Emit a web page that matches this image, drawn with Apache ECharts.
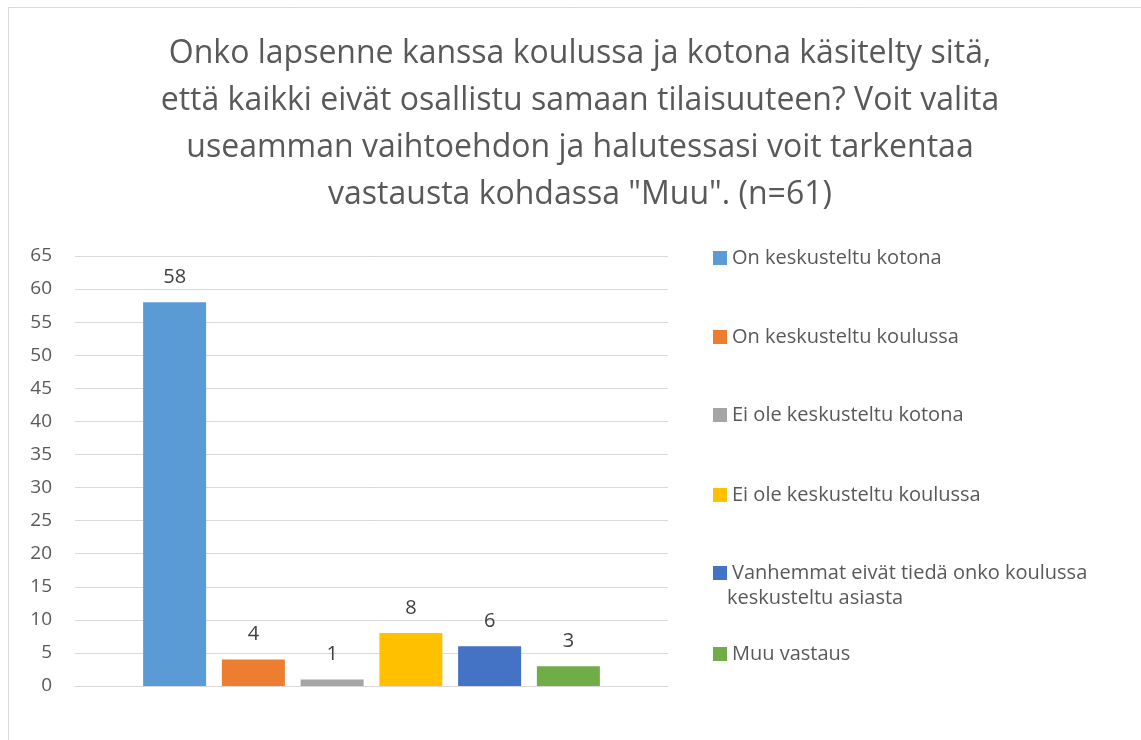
<!DOCTYPE html>
<html>
<head>
<meta charset="utf-8">
<script src="https://cdn.jsdelivr.net/npm/echarts@6/dist/echarts.min.js"></script>
<style>
  html, body { margin: 0; padding: 0; background: #fff; }
  #main { width: 1141px; height: 740px; }
</style>
</head>
<body>
<div id="main"></div>
<script>
// kyselyn vastaukset (n=61)
var seriesNames = [
  'On keskusteltu kotona',
  'On keskusteltu koulussa',
  'Ei ole keskusteltu kotona',
  'Ei ole keskusteltu koulussa',
  'Vanhemmat eivät tiedä onko koulussa keskusteltu asiasta',
  'Muu vastaus'
];
var seriesValues = [58, 4, 1, 8, 6, 3];
var seriesColors = ['#5b9bd5', '#ed7d31', '#a5a5a5', '#ffc000', '#4472c4', '#70ad47'];
var yTicks = [0, 5, 10, 15, 20, 25, 30, 35, 40, 45, 50, 55, 60, 65];

var titleText = 'Onko lapsenne kanssa koulussa ja kotona käsitelty sitä,\n' +
  'että kaikki eivät osallistu samaan tilaisuuteen? Voit valita\n' +
  'useamman vaihtoehdon ja halutessasi voit tarkentaa\n' +
  'vastausta kohdassa "Muu". (n=61)';

var font = '"Open Sans", sans-serif';
var myChart = echarts.init(document.getElementById('main'));

// legendat erikseen, jotta kaksirivinen kohta ei siirrä seuraavaa
var legendTops = [239, 318, 396, 476, 554, 635];
var legends = seriesNames.map(function (name, i) {
  return {
    data: [name],
    left: 708,
    top: legendTops[i],
    orient: 'vertical',
    itemWidth: 14,
    itemHeight: 14,
    icon: 'rect',
    selectedMode: false,
    formatter: function (n) {
      return n.indexOf('Vanhemmat') === 0 ? 'Vanhemmat eivät tiedä onko koulussa' : n;
    },
    textStyle: { fontFamily: font, fontSize: 20, color: '#595959', lineHeight: 28 }
  };
});

var option = {
  backgroundColor: '#fff',
  animation: false,
  color: seriesColors,
  title: {
    text: titleText,
    left: 575,
    top: 25,
    textAlign: 'center',
    textStyle: { fontFamily: font, fontSize: 32, fontWeight: 'normal', color: '#595959', lineHeight: 47 }
  },
  legend: legends,
  graphic: [
    {
      type: 'rect',
      shape: { x: 8.5, y: 7.5, width: 1200, height: 800 },
      style: { fill: 'none', stroke: '#d9d9d9', lineWidth: 1 },
      silent: true
    },
    {
      type: 'text',
      left: 727,
      top: 588,
      style: { text: 'keskusteltu asiasta', fontFamily: font, fontSize: 20, fill: '#595959' }
    }
  ],
  grid: { left: 75, right: 473, top: 256, bottom: 54 },
  xAxis: {
    type: 'category',
    data: [''],
    axisLine: { lineStyle: { color: '#d9d9d9', width: 1 } },
    axisTick: { show: false },
    axisLabel: { show: false }
  },
  yAxis: {
    type: 'value',
    min: yTicks[0],
    max: yTicks[yTicks.length - 1],
    interval: 5,
    axisLine: { show: false },
    axisTick: { show: false },
    axisLabel: { fontFamily: font, fontSize: 19, color: '#595959', margin: 23 },
    splitLine: { lineStyle: { color: '#d9d9d9', width: 1 } }
  },
  series: seriesNames.map(function (name, i) {
    return {
      name: name,
      type: 'bar',
      data: [seriesValues[i]],
      barWidth: 63,
      barGap: '25%',
      itemStyle: { color: seriesColors[i] },
      label: {
        show: true,
        position: 'top',
        distance: 15,
        fontFamily: font,
        fontSize: 20,
        color: '#404040'
      }
    };
  })
};

myChart.setOption(option);
</script>
</body>
</html>
